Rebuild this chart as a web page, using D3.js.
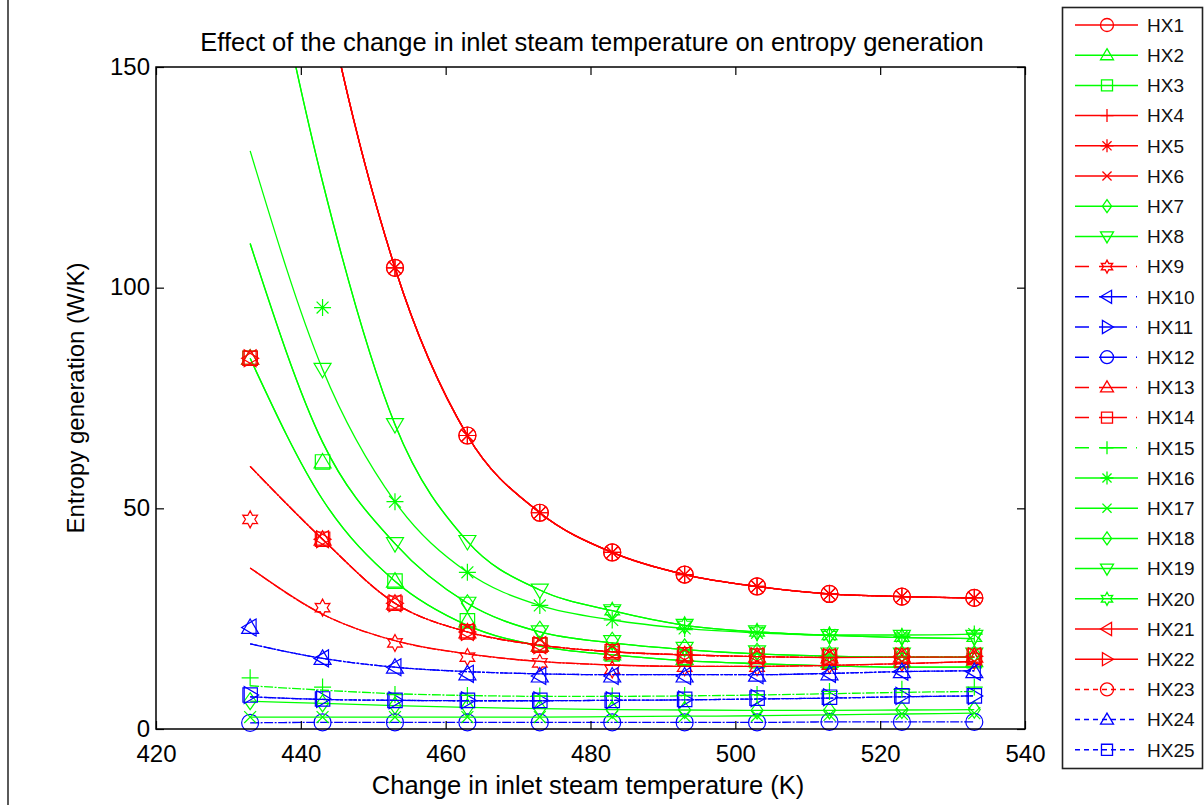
<!DOCTYPE html>
<html>
<head>
<meta charset="utf-8">
<script src="https://cdn.jsdelivr.net/npm/d3@7"></script>
<style>
  body { margin: 0; background: #fff; }
  svg { display: block; font-family: Arial, "Liberation Sans", Helvetica, sans-serif; }
</style>
</head>
<body>
<svg id="chart" width="1204" height="808"></svg>
<script>
// inlet steam temperature (K) at which each exchanger was evaluated
const temps = [433, 443, 453, 463, 473, 483, 493, 503, 513, 523, 533];
const xTicks = [420, 440, 460, 480, 500, 520, 540];
const yTicks = [0, 50, 100, 150];

// fitted entropy generation curves (W/K)
const hx1Curve     = [270, 170, 104.5, 66.5, 49, 40, 35, 32.3, 30.6, 30, 29.7];
const steepGreen   = [200, 124, 69, 42.5, 31.5, 26.8, 23.5, 22, 21.2, 20.7, 20.5];
const starGreen    = [131, 81.5, 51.5, 35.5, 28, 24.7, 22.8, 21.8, 21.3, 21.3, 21.5];
const midGreen     = [110, 65, 42, 28.5, 22, 19.5, 18, 17, 16.5, 16.3, 16.3];
const lowGreen     = [84, 52, 33.5, 23.5, 18.8, 16.8, 15.5, 14.8, 14.3, 14, 14];
const redUpper     = [59.5, 43, 28.5, 22, 19, 17.5, 16.8, 16.4, 16.2, 16.3, 16.3];
const redLower     = [36.5, 26, 20, 17, 15.3, 14.5, 14.2, 14.2, 14.4, 14.8, 15.3];
const blueUpper    = [19.3, 16, 14, 13, 12.5, 12.3, 12.3, 12.3, 12.6, 13, 13.2];
const blueMid      = [7.3, 6.7, 6.5, 6.4, 6.4, 6.5, 6.6, 6.8, 7, 7.3, 7.5];
const blueLow      = [1.4, 1.5, 1.5, 1.5, 1.5, 1.5, 1.5, 1.5, 1.6, 1.6, 1.6];
const plusGreen    = [9.8, 8.8, 8, 7.6, 7.4, 7.4, 7.5, 7.7, 8, 8.3, 8.5];
const diamondGreen = [6.3, 5.8, 5.3, 4.9, 4.6, 4.4, 4.3, 4.2, 4.2, 4.3, 4.4];
const crossGreen   = [2.7, 2.7, 2.7, 2.7, 2.7, 2.8, 2.9, 3, 3.2, 3.4, 3.6];

// computed points (null = not plotted)
const starMarks       = [null, 95.5, 51.5, 35.5, 28, 24.7, 22.8, 21.8, 21.3, 21, 21.5];
const steepMarks      = [null, 81.5, 69, 42.5, 31.5, 26.8, 23.5, 22, 21.2, 21, 21];
const hexGreenMarks   = [null, null, null, null, null, 26.8, 23.5, 22, 21.2, 20.8, 20.8];
const midMarks        = [null, null, 42, 28.5, 22, 19.8, 18.3, 17.5, 17, 17, 17];
const diamondMidMarks = [null, null, null, 28.5, 22.5, 20, 18.5, 17.5, 17, 17, 17];
const squareMarks     = [84, 60.5, 33.5, 24.5, 19, 17, 16, 15.5, 15.3, 15.5, 15.5];
const clusterMarks    = [84, 43, 28.5, 22, 19, 17.5, 16.8, 16.5, 16.3, 16.5, 16.5];
const hexRedMarks     = [47.5, 27.5, 19.5, 16.3, 15, 13.5, 14, 14, 14.5, 15, 15.5];
const blueTriMarks    = [23, 16, 14, 12.5, 12, 12, 12, 12.2, 12.5, 13, 13];
const blueSquareMarks = [7.7, 6.8, 6.5, 6.5, 6.5, 6.5, 6.7, 7, 7.2, 7.5, 7.5];
const plusMarks       = [11.6, 9.5, 7.8, 7.6, 7.5, 7.5, 7.6, 7.8, 8.5, 9, 9.5];

const names = d3.range(1, 26).map(i => 'HX' + i);
const R = '#ff0000', G = '#00ff00', B = '#0000ff';
const seriesColor  = [R, G, G, R, R, R, G, G, R, B, B, B, R, R, G, G, G, G, G, G, R, R, R, B, B];
const seriesMarker = ['o', '^', 's', '+', '*', 'x', 'd', 'v', 'h', '<', '>', 'o', '^', 's', '+',
                      '*', 'x', 'd', 'v', 'h', '<', '>', 'o', '^', 's'];
const seriesStyle  = ['-', '-', '-', '-', '-', '-', '-', '-', '-.', '-.', '-.', '-.', '-.', '-.', '-.',
                      '-', '-', '-', '-', '-', '-', '-', ':', ':', ':'];
const seriesLine   = [hx1Curve, lowGreen, lowGreen, hx1Curve, hx1Curve, hx1Curve, diamondGreen, midGreen,
                      redLower, blueUpper, blueMid, blueLow, redUpper, redUpper, plusGreen,
                      starGreen, crossGreen, midGreen, steepGreen, steepGreen, redLower, redUpper,
                      hx1Curve, blueUpper, blueMid];
const seriesMarks  = [hx1Curve, squareMarks, squareMarks, hx1Curve, hx1Curve, hx1Curve, diamondGreen, midMarks,
                      hexRedMarks, blueTriMarks, blueSquareMarks, blueLow, clusterMarks, clusterMarks, plusMarks,
                      starMarks, crossGreen, diamondMidMarks, steepMarks, hexGreenMarks, clusterMarks, clusterMarks,
                      hx1Curve, blueTriMarks, blueSquareMarks];

// plot lines are thin and dense, so broken styles read almost solid
const dashes = { '-': null, '-.': '9,1.5,2,1.5', ':': '3,1.5' };
const legendDashes = { '-': null, '-.': '14,10,28,9,1,20', ':': '5,4' };

const svg = d3.select('#chart');
const x = d3.scaleLinear().domain([420, 540]).range([156, 1025]);
const y = d3.scaleLinear().domain([0, 150]).range([729, 67]);

// marker glyphs, s = half size
function markerPath(shape, s) {
  const k = 0.7 * s;
  switch (shape) {
    case 'o': return `M${s},0A${s},${s} 0 1,1 ${-s},0A${s},${s} 0 1,1 ${s},0Z`;
    case '^': return `M0,${-s}L${s},${k}L${-s},${k}Z`;
    case 'v': return `M0,${s}L${s},${-k}L${-s},${-k}Z`;
    case '<': return `M${-s},0L${k},${-s}L${k},${s}Z`;
    case '>': return `M${s},0L${-k},${-s}L${-k},${s}Z`;
    case 's': { const h = 0.85 * s; return `M${-h},${-h}H${h}V${h}H${-h}Z`; }
    case 'd': return `M0,${-s}L${k},0L0,${s}L${-k},0Z`;
    case '+': return `M${-s},0H${s}M0,${-s}V${s}`;
    case 'x': return `M${-k},${-k}L${k},${k}M${-k},${k}L${k},${-k}`;
    case '*': return `M${-s},0H${s}M0,${-s}V${s}M${-k},${-k}L${k},${k}M${-k},${k}L${k},${-k}`;
    case 'h': {
      const pts = d3.range(12).map(i => {
        const a = -Math.PI / 2 + i * Math.PI / 6;
        const r = i % 2 ? 0.55 * s : s;
        return [r * Math.cos(a), r * Math.sin(a)];
      });
      return 'M' + pts.map(p => p.join(',')).join('L') + 'Z';
    }
  }
}

svg.append('defs').append('clipPath').attr('id', 'plotClip')
  .append('rect').attr('x', 156).attr('y', 67).attr('width', 869).attr('height', 662);

// thin rule at the left edge of the figure
svg.append('line').attr('x1', 8).attr('x2', 8).attr('y1', 0).attr('y2', 805)
  .attr('stroke', '#000').attr('stroke-width', 1.3);

const line = d3.line()
  .x((d, i) => x(temps[i]))
  .y(d => y(d))
  .curve(d3.curveMonotoneX);

const plot = svg.append('g');
names.forEach((name, j) => {
  const g = plot.append('g').attr('class', 'series');
  g.append('path')
    .attr('clip-path', 'url(#plotClip)')
    .attr('d', line(seriesLine[j]))
    .attr('fill', 'none')
    .attr('stroke', seriesColor[j])
    .attr('stroke-width', 1.3)
    .attr('stroke-dasharray', dashes[seriesStyle[j]]);
  const pts = seriesMarks[j]
    .map((v, i) => ({ t: temps[i], v }))
    .filter(d => d.v != null && d.v <= 150);
  g.selectAll('path.mk').data(pts).enter().append('path')
    .attr('class', 'mk')
    .attr('transform', d => `translate(${x(d.t)},${y(d.v)})`)
    .attr('d', markerPath(seriesMarker[j], 8.5))
    .attr('fill', 'none')
    .attr('stroke', seriesColor[j])
    .attr('stroke-width', 1.2);
});

// axes, ticks point inward
const xAxis = svg.append('g').attr('transform', 'translate(0,729)')
  .call(d3.axisBottom(x).tickValues(xTicks).tickSizeInner(-8).tickSizeOuter(0).tickPadding(16));
const yAxis = svg.append('g').attr('transform', 'translate(156,0)')
  .call(d3.axisLeft(y).tickValues(yTicks).tickSizeInner(-8).tickSizeOuter(0).tickPadding(6));
svg.append('g').attr('transform', 'translate(0,67)')
  .call(d3.axisTop(x).tickValues(xTicks).tickSizeInner(-8).tickSizeOuter(0).tickFormat(''));
svg.append('g').attr('transform', 'translate(1025,0)')
  .call(d3.axisRight(y).tickValues(yTicks).tickSizeInner(-8).tickSizeOuter(0).tickFormat(''));

svg.selectAll('.domain').remove();
svg.selectAll('.tick line').attr('stroke', '#000').attr('stroke-width', 1.2);
svg.selectAll('.tick text').attr('font-size', 24).attr('fill', '#000')
  .attr('font-family', 'Arial, "Liberation Sans", sans-serif');
yAxis.selectAll('.tick text').attr('dy', '0.3em');

svg.append('rect').attr('x', 156).attr('y', 67).attr('width', 869).attr('height', 662)
  .attr('fill', 'none').attr('stroke', '#000').attr('stroke-width', 1.5);

svg.append('text').attr('x', 592).attr('y', 51).attr('text-anchor', 'middle')
  .attr('font-size', 25.5).text('Effect of the change in inlet steam temperature on entropy generation');
svg.append('text').attr('x', 588).attr('y', 794).attr('text-anchor', 'middle')
  .attr('font-size', 25.5).text('Change in inlet steam temperature (K)');
svg.append('text').attr('transform', 'translate(84,398) rotate(-90)').attr('text-anchor', 'middle')
  .attr('font-size', 24).text('Entropy generation (W/K)');

// legend
const legend = svg.append('g');
legend.append('rect').attr('x', 1062.5).attr('y', 7.5).attr('width', 140).attr('height', 761)
  .attr('fill', '#fff').attr('stroke', '#222').attr('stroke-width', 1.6);
names.forEach((name, j) => {
  const ly = 25 + j * 30.2;
  const item = legend.append('g').attr('transform', `translate(0,${ly})`);
  item.append('line').attr('x1', 1075).attr('x2', 1138).attr('y1', 0).attr('y2', 0)
    .attr('stroke', seriesColor[j]).attr('stroke-width', 1.5)
    .attr('stroke-dasharray', legendDashes[seriesStyle[j]]);
  item.append('path').attr('transform', 'translate(1107,0)')
    .attr('d', markerPath(seriesMarker[j], 6.5))
    .attr('fill', 'none').attr('stroke', seriesColor[j]).attr('stroke-width', 1.3);
  item.append('text').attr('x', 1147).attr('y', 0).attr('dy', '0.36em')
    .attr('font-size', 19).attr('fill', '#111').text(name);
});
</script>
</body>
</html>
